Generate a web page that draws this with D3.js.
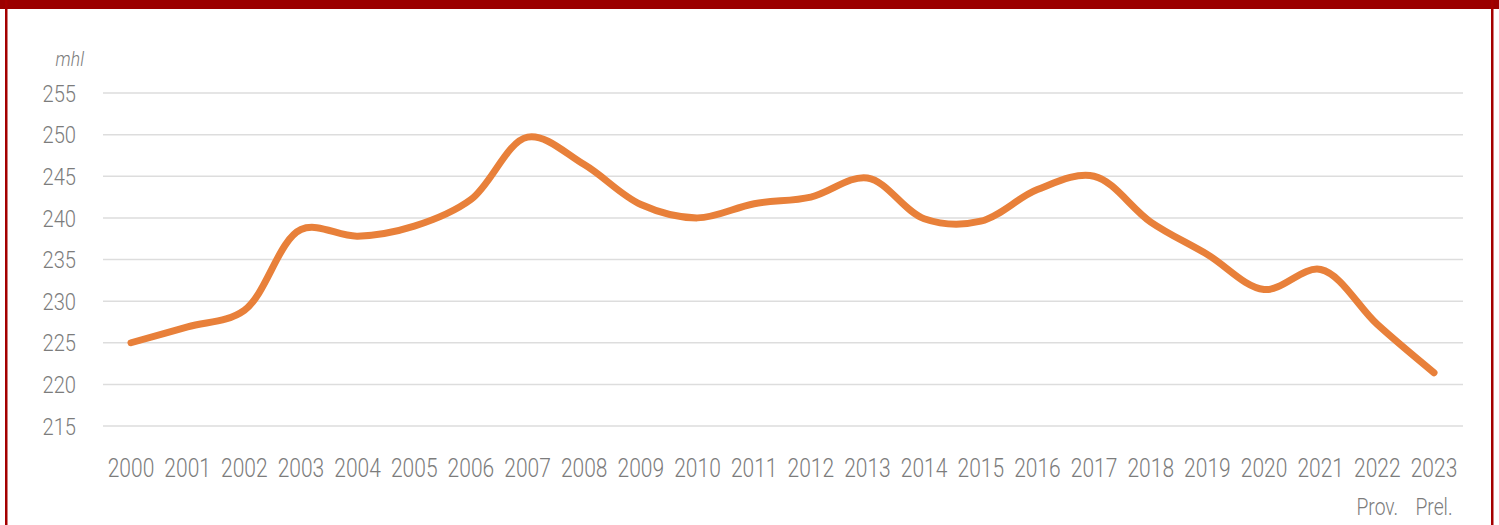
<!DOCTYPE html>
<html lang="en">
<head>
  <meta charset="UTF-8">
  <title>mhl 2000-2023</title>
  <style>
    body { margin: 0; background: #fff; }
    svg { display: block; }
    text { font-family: Roboto, "Liberation Sans", sans-serif; font-weight: 300; fill: #7c7c7c; }
  </style>
  <script src="https://d3js.org/d3.v7.min.js"></script>
</head>
<body>
  <svg id="chart"></svg>
  <script>
    const years = ['2000','2001','2002','2003','2004','2005','2006','2007','2008','2009','2010','2011',
                   '2012','2013','2014','2015','2016','2017','2018','2019','2020','2021','2022','2023'];
    const values = [225.0, 226.9, 228.9, 238.6, 237.8, 239.0, 242.2, 249.7, 246.4, 241.6, 240.0, 241.7,
                    242.5, 244.8, 239.9, 239.6, 243.4, 245.0, 239.5, 235.6, 231.4, 233.8, 227.2, 221.4];
    const subLabels = { '2022': 'Prov.', '2023': 'Prel.' };
    const yTicks = [215, 220, 225, 230, 235, 240, 245, 250, 255];

    const W = 1499, H = 525;
    const narrow = 0.84; // condensed look
    const svg = d3.select('#chart').attr('width', W).attr('height', H);

    // frame
    svg.append('rect').attr('x', 0).attr('y', 0).attr('width', W).attr('height', 9).attr('fill', '#9b0000');
    svg.append('rect').attr('x', 5).attr('y', 0).attr('width', 2.5).attr('height', H).attr('fill', '#a40000');
    svg.append('rect').attr('x', 1491).attr('y', 0).attr('width', 2.5).attr('height', H).attr('fill', '#a40000');

    const x = d3.scalePoint().domain(years).range([131, 1434]);
    const y = d3.scaleLinear().domain([215, 255]).range([426, 93]);

    // gridlines
    svg.append('g').selectAll('line').data(yTicks).enter().append('line')
      .attr('x1', 103).attr('x2', 1463)
      .attr('y1', d => y(d)).attr('y2', d => y(d))
      .attr('stroke', '#dddddd').attr('stroke-width', 1.5);

    // y labels
    svg.append('g').selectAll('text').data(yTicks).enter().append('text')
      .attr('transform', d => `translate(76,${y(d)}) scale(${narrow},1)`)
      .attr('dy', '0.36em')
      .attr('text-anchor', 'end').attr('font-size', 24)
      .text(d => d);

    svg.append('text').attr('transform', `translate(84,66) scale(${narrow},1)`)
      .attr('text-anchor', 'end')
      .attr('font-size', 21).attr('font-style', 'italic').text('mhl');

    // x labels
    const xl = svg.append('g').selectAll('g').data(years).enter().append('g');
    xl.append('text').attr('transform', d => `translate(${x(d)},477) scale(${narrow},1)`)
      .attr('text-anchor', 'middle').attr('font-size', 25).text(d => d);
    xl.filter(d => subLabels[d]).append('text')
      .attr('transform', d => `translate(${x(d)},515) scale(${narrow},1)`)
      .attr('text-anchor', 'middle').attr('font-size', 23).text(d => subLabels[d]);

    // line
    const line = d3.line()
      .x((d, i) => x(years[i]))
      .y(d => y(d))
      .curve(d3.curveCatmullRom.alpha(0.5));

    svg.append('path').datum(values)
      .attr('d', line)
      .attr('fill', 'none')
      .attr('stroke', '#e8803a')
      .attr('stroke-width', 7)
      .attr('stroke-linecap', 'round')
      .attr('stroke-linejoin', 'round');
  </script>
</body>
</html>
